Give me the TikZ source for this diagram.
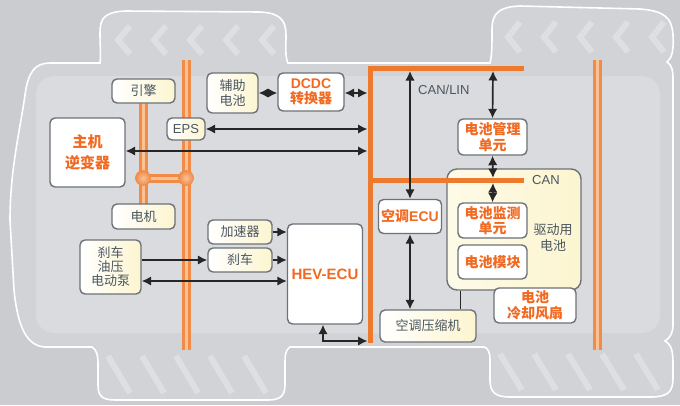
\documentclass[tikz,border=0pt]{standalone}
\usepackage{fontspec}
\setmainfont{Liberation Sans}
\newfontfamily\cjk{Noto Sans CJK SC}
\usetikzlibrary{arrows.meta,calc}
\newcommand{\zh}[1]{{\cjk #1}}
\definecolor{canvas}{HTML}{CBCCCF}
\definecolor{shell}{HTML}{D2D3D6}
\definecolor{cabin}{HTML}{DADBDE}
\definecolor{frame}{HTML}{6C7278}
\definecolor{label}{HTML}{4A5661}
\definecolor{accent}{HTML}{F26A21}
\definecolor{bus}{HTML}{EE7A2E}
\definecolor{tube}{HTML}{F08B48}
\definecolor{tubelight}{HTML}{F9C196}
\definecolor{cream}{HTML}{FCF5D0}
\definecolor{ink}{HTML}{262626}

\begin{document}
\begin{tikzpicture}[x=1pt,y=-1pt,
  box/.style={draw=frame, line width=1.4pt, rounded corners=5pt, align=center, inner sep=1pt},
  plainbox/.style={box, left color=white, right color=cream, text=label, font=\cjk\fontsize{13}{15}\selectfont},
  keybox/.style={box, fill=white, text=accent, font=\fontsize{14}{15.5}\selectfont\bfseries},
  link/.style={draw=ink, line width=1.7pt, -{Latex[length=9.5pt,width=9.5pt]}},
  dlink/.style={link, {Latex[length=9.5pt,width=9.5pt]}-{Latex[length=9.5pt,width=9.5pt]}},
  tubeout/.style={draw=tube, line width=9pt},
  tubein/.style={draw=tubelight, line width=3pt},
  chevron/.style={draw=white, line width=6pt, opacity=0.28, line join=miter}
]
\useasboundingbox (0,0) rectangle (680,405);
\fill[canvas] (0,0) rectangle (680,405);

% car body with its four wheels
\path[fill=shell, draw=white, line width=1.6pt]
  (50,63) -- (100,63)
  .. controls (101,55) and (100,45) .. (100,32)
  .. controls (100,18) and (105,12) .. (125,11) -- (260,12)
  .. controls (280,13) and (286,20) .. (286,35)
  .. controls (286,48) and (285,57) .. (288,63) -- (490,63)
  .. controls (492,55) and (492,45) .. (492,30)
  .. controls (492,12) and (500,7) .. (520,6) -- (640,9)
  .. controls (665,11) and (672,18) .. (673,35)
  .. controls (674,50) and (672,58) .. (667,62)
  .. controls (672,65) and (673,70) .. (673,80) -- (673,325)
  .. controls (673,333) and (670,338) .. (665,341)
  .. controls (672,345) and (673,352) .. (673,365) -- (673,378)
  .. controls (673,392) and (668,397) .. (650,397) -- (510,397)
  .. controls (495,397) and (490,392) .. (490,380) -- (490,360)
  .. controls (490,352) and (488,348) .. (484,347) -- (290,347)
  .. controls (285,350) and (285,356) .. (285,365) -- (285,385)
  .. controls (285,396) and (280,400) .. (268,400) -- (115,400)
  .. controls (102,400) and (98,396) .. (98,385) -- (98,365)
  .. controls (98,356) and (97,350) .. (92,347) -- (45,347)
  .. controls (28,346) and (18,330) .. (14,290) -- (10,220)
  .. controls (10,170) and (20,130) .. (25,95)
  .. controls (28,72) and (35,63) .. (50,63) -- cycle;
\fill[cabin, rounded corners=18pt] (36,76) rectangle (660,333);

% tread marks
\foreach \x in {118,154,190,226,262}
  \draw[chevron] (\x+12,26) -- (\x,40) -- (\x+12,54);
\foreach \x in {508,544,580,616,652}
  \draw[chevron] (\x+12,22) -- (\x,37) -- (\x+12,52);
\foreach \x in {108,142,176,210,244}
  \draw[chevron] (\x,356) -- (\x+22,393);
\foreach \x in {500,534,568,602,636}
  \draw[chevron] (\x,354) -- (\x+22,390);

% axles and drive shaft
\draw[tubeout] (186,60) -- (186,350);
\draw[tubein]  (186,60) -- (186,350);
\draw[tubeout] (597,60) -- (597,350);
\draw[tubein]  (597,60) -- (597,350);
\draw[tubeout] (143,100) -- (143,206);
\draw[tubein]  (143,100) -- (143,206);
\draw[tubeout] (143,178) -- (186,178);
\draw[tubein]  (143,178) -- (186,178);
\shade[inner color=tubelight, outer color=tube, draw=tube, line width=0.6pt] (143,178) circle (7.5);
\shade[inner color=tubelight, outer color=tube, draw=tube, line width=0.6pt] (186,178) circle (7.5);

% traction battery housing
\node[box, rounded corners=10pt, left color=white!50!cream, right color=cream,
      minimum width=134, minimum height=121] (pack) at (514,229.5) {};

% CAN/LIN and CAN buses
\draw[bus, line width=5pt] (370,66) -- (370,343);
\draw[bus, line width=5pt] (367.5,68.5) -- (524,68.5);
\draw[bus, line width=5pt] (370,180.5) -- (524,180.5);
\coordinate (busDC)  at (367.5,93);
\coordinate (busEPS) at (367.5,129);
\coordinate (busINV) at (367.5,151);
\coordinate (busHEV) at (367.5,341);
\coordinate (topA)   at (410,71);
\coordinate (topB)   at (493,71);
\coordinate (canUp)  at (493,178);
\coordinate (canDn)  at (493,183);

% components
\node[plainbox, minimum width=63, minimum height=24] (engine) at (143.5,91) {引擎};
\node[plainbox, font=\fontsize{13}{15}\selectfont, minimum width=38, minimum height=22] (eps) at (186,129) {EPS};
\node[keybox, font=\fontsize{15}{21}\selectfont\bfseries, minimum width=75, minimum height=69] (inverter) at (87.5,152.5) {\zh{主机}\\\zh{逆变器}};
\node[plainbox, minimum width=51, minimum height=40] (auxbat) at (232.5,93) {辅助\\电池};
\node[keybox, minimum width=66, minimum height=38] (dcdc) at (311,92) {DCDC\\\zh{转换器}};
\node[plainbox, minimum width=63, minimum height=25] (motor) at (143.5,216.5) {电机};
\node[plainbox, font=\cjk\fontsize{13}{14}\selectfont, minimum width=61, minimum height=54] (pump) at (110.5,267) {刹车\\油压\\电动泵};
\node[plainbox, minimum width=64, minimum height=24] (accel) at (240,232) {加速器};
\node[plainbox, minimum width=64, minimum height=24] (brake) at (240,260) {刹车};
\node[keybox, font=\fontsize{15}{18}\selectfont\bfseries, minimum width=75, minimum height=100] (hev) at (325,274) {HEV-ECU};
\node[keybox, minimum width=63, minimum height=34] (acecu) at (410,216.5) {\zh{空调}ECU};
\node[plainbox, minimum width=96, minimum height=32] (comp) at (428,326) {空调压缩机};
\node[keybox, minimum width=69, minimum height=36] (bmu) at (492.5,137) {\zh{电池管理}\\\zh{单元}};
\node[keybox, minimum width=69, minimum height=35] (bmon) at (492.5,220.5) {\zh{电池监测}\\\zh{单元}};
\node[keybox, minimum width=69, minimum height=34] (bmod) at (492.5,262) {\zh{电池模块}};
\node[keybox, minimum width=82, minimum height=35] (fan) at (535,305.5) {\zh{电池}\\\zh{冷却风扇}};

% bus labels
\node[text=label, font=\fontsize{13}{15}\selectfont, anchor=west, inner sep=0] (canlin) at (418,90) {CAN/LIN};
\node[text=label, font=\fontsize{13}{15}\selectfont, anchor=west, inner sep=0] (canlbl) at (532,180) {CAN};
\node[text=label, align=center, font=\cjk\fontsize{13}{16}\selectfont] (packlbl) at (553,238) {驱动用\\电池};

% signal connections
\draw[dlink] (auxbat.east) -- (auxbat.east -| dcdc.west);
\draw[dlink] (busDC -| dcdc.east) -- (busDC);
\draw[dlink] (eps.east) -- (eps.east -| busEPS);
\draw[dlink] (busINV -| inverter.east) -- (busINV);
\draw[link] (brake.west -| pump.east) -- (brake.west);
\draw[link] (accel.east) -- (accel.east -| hev.west);
\draw[link] (brake.east) -- (brake.east -| hev.west);
\coordinate (pumpL) at ($(pump.east)+(0,14)$);
\draw[dlink] (pumpL) -- (pumpL -| hev.west);
\coordinate (hevfoot) at ($(hev.south)+(-2,0)$);
\draw[dlink] (hevfoot) |- (busHEV);
\draw[dlink] (topA) -- (acecu.north);
\draw[dlink] (acecu.south) -- (acecu.south |- comp.north);
\draw[dlink] (topB) -- (bmu.north);
\draw[dlink] (bmu.south) -- (canUp);
\draw[dlink] (canDn) -- (bmon.north);
\coordinate (packfoot) at ($(pack.south west)+(14,0)$);
\draw[draw=ink, line width=1pt] (packfoot) -- (packfoot |- comp.north);
\end{tikzpicture}
\end{document}
